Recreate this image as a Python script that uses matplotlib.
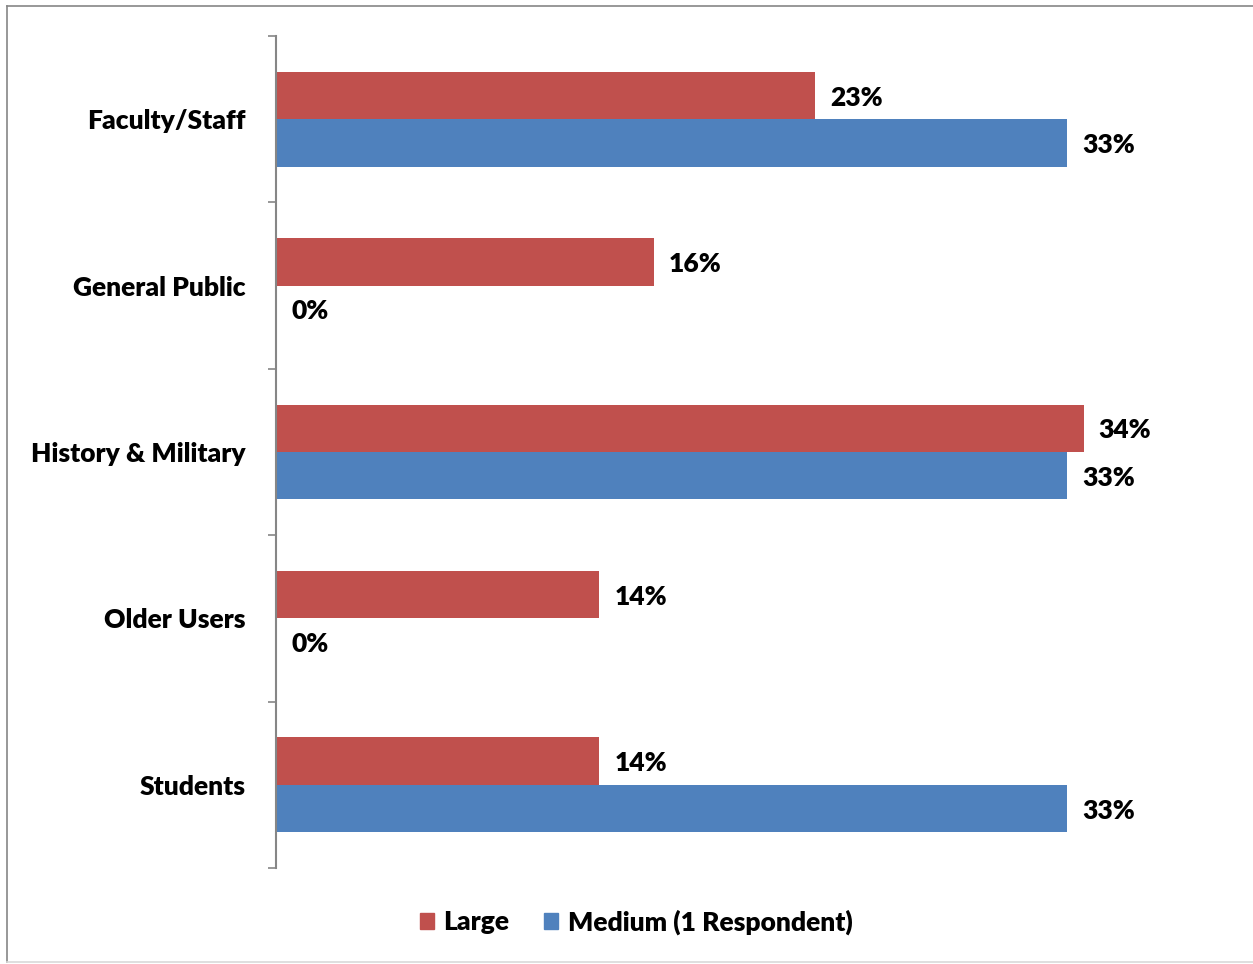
import matplotlib
matplotlib.use("Agg")
import matplotlib.pyplot as plt
from matplotlib.lines import Line2D
from matplotlib.patches import Patch
import numpy as np

categories = ["Faculty/Staff", "General Public", "History & Military", "Older Users", "Students"]
large = [22.7, 15.9, 34.0, 13.6, 13.6]
medium = [33.3, 0.0, 33.3, 0.0, 33.3]
large_labels = ["23%", "16%", "34%", "14%", "14%"]
medium_labels = ["33%", "0%", "33%", "0%", "33%"]
series_names = ["Large", "Medium (1 Respondent)"]

RED = "#C0504D"
BLUE = "#4F81BD"
FONT = "Lato"
WEIGHT = "heavy"
FS = 19

W, H = 1253, 964
fig = plt.figure(figsize=(W / 100, H / 100), dpi=100)
fig.patch.set_facecolor("white")

ax = fig.add_axes([276 / W, 1 - 868 / H, 950 / W, (868 - 36) / H])
y = np.arange(len(categories))
h = 0.285
ax.barh(y - h / 2, large, height=h, color=RED, label=series_names[0])
ax.barh(y + h / 2, medium, height=h, color=BLUE, label=series_names[1])
ax.set_xlim(0, 40)
ax.set_ylim(len(categories) - 0.5, -0.5)

for i in range(len(categories)):
    ax.annotate(large_labels[i], (large[i], y[i] - h / 2), xytext=(11, -1.5), textcoords="offset points",
                ha="left", va="center", fontsize=FS, fontweight=WEIGHT, family=FONT)
    ax.annotate(medium_labels[i], (medium[i], y[i] + h / 2), xytext=(11, -1.5), textcoords="offset points",
                ha="left", va="center", fontsize=FS, fontweight=WEIGHT, family=FONT)

ax.set_yticks(np.arange(-0.5, len(categories) + 0.5, 1))
ax.set_yticklabels([])
ax.tick_params(axis="y", length=6, color="#868686", width=1.2)
ax.set_yticks(y, minor=True)
ax.set_yticklabels(categories, minor=True, fontsize=FS, fontweight=WEIGHT, family=FONT)
ax.tick_params(axis="y", which="minor", length=0, pad=22)
ax.set_xticks([])
for s in ["top", "right", "bottom"]:
    ax.spines[s].set_visible(False)
ax.spines["left"].set_color("#868686")
ax.spines["left"].set_linewidth(1.5)

handles = [Patch(color=RED, label=series_names[0]), Patch(color=BLUE, label=series_names[1])]
leg = fig.legend(handles=handles, loc="center", bbox_to_anchor=(636 / W, 1 - 922 / H), ncol=2,
                 frameon=False, prop={"family": FONT, "weight": WEIGHT, "size": FS},
                 handlelength=0.55, handleheight=0.55, handletextpad=0.35, columnspacing=1.3)

# outer chart border
fig.add_artist(Line2D([7 / W, 7 / W], [1 - 6 / H, 1 - 962 / H], transform=fig.transFigure, color="#868686", lw=1.2))
fig.add_artist(Line2D([7 / W, 1], [1 - 6 / H, 1 - 6 / H], transform=fig.transFigure, color="#868686", lw=1.2))
fig.add_artist(Line2D([7 / W, 1], [1 - 962 / H, 1 - 962 / H], transform=fig.transFigure, color="#D9D9D9", lw=1.2))

fig.savefig("out.png", dpi=100)
